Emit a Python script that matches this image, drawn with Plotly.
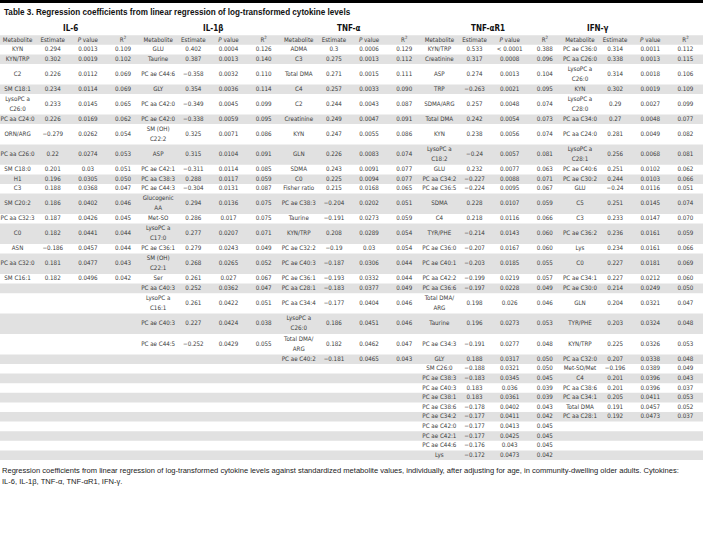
import plotly.graph_objects as go

W, H = 703, 543

TITLE = "Table 3. Regression coefficients from linear regression of log-transformed cytokine levels"
FOOT1 = ("Regression coefficients from linear regression of log-transformed cytokine levels against standardized "
         "metabolite values, individually, after adjusting for age, in community-dwelling older adults. Cytokines:")
FOOT2 = "IL-6, IL-1β, TNF-α, TNF-αR1, IFN-γ."

cytokines = ["IL-6", "IL-1β", "TNF-α", "TNF-αR1", "IFN-γ"]
column_labels = ["Metabolite", "Estimate", "<i>P</i> value", "R<sup>2</sup>"]

# ---------------- IL-6 ----------------
il6_metabolite = ["KYN", "KYN/TRP", "C2", "SM C18:1", "LysoPC a C26:0", "PC aa C24:0", "ORN/ARG",
                  "PC aa C26:0", "SM C18:0", "H1", "C3", "SM C20:2", "PC aa C32:3", "C0", "ASN",
                  "PC aa C32:0", "SM C16:1"]
il6_estimate = [0.294, 0.302, 0.226, 0.234, 0.233, 0.226, -0.279, 0.22, 0.201, 0.196, 0.188, 0.186,
                0.187, 0.182, -0.186, 0.181, 0.182]
il6_pvalue = [0.0013, 0.0019, 0.0112, 0.0114, 0.0145, 0.0169, 0.0262, 0.0274, 0.03, 0.0305, 0.0368,
              0.0402, 0.0426, 0.0441, 0.0457, 0.0477, 0.0496]
il6_r2 = [0.109, 0.102, 0.069, 0.069, 0.065, 0.062, 0.054, 0.053, 0.051, 0.050, 0.047, 0.046, 0.045,
          0.044, 0.044, 0.043, 0.042]

# ---------------- IL-1beta ----------------
il1b_metabolite = ["GLU", "Taurine", "PC ae C44:6", "GLY", "PC aa C42:0", "PC ae C42:0", "SM (OH) C22:2",
                   "ASP", "PC ae C42:1", "PC aa C38:3", "PC ae C44:3", "Glucogenic AA", "Met-SO",
                   "LysoPC a C17:0", "PC ae C36:1", "SM (OH) C22:1", "Ser", "PC aa C40:3",
                   "LysoPC a C16:1", "PC ae C40:3", "PC ae C44:5"]
il1b_estimate = [0.402, 0.387, -0.358, 0.354, -0.349, -0.338, 0.325, 0.315, -0.311, 0.288, -0.304, 0.294,
                 0.286, 0.277, 0.279, 0.268, 0.261, 0.252, 0.261, 0.227, -0.252]
il1b_pvalue = [0.0004, 0.0013, 0.0032, 0.0036, 0.0045, 0.0059, 0.0071, 0.0104, 0.0114, 0.0117, 0.0131,
               0.0136, 0.017, 0.0207, 0.0243, 0.0265, 0.027, 0.0362, 0.0422, 0.0424, 0.0429]
il1b_r2 = [0.126, 0.140, 0.110, 0.114, 0.099, 0.095, 0.086, 0.091, 0.085, 0.059, 0.087, 0.075, 0.075,
           0.071, 0.049, 0.052, 0.067, 0.047, 0.051, 0.038, 0.055]

# ---------------- TNF-alpha ----------------
tnfa_metabolite = ["ADMA", "C3", "Total DMA", "C4", "C2", "Creatinine", "KYN", "GLN", "SDMA", "C0",
                   "Fisher ratio", "PC ae C38:3", "Taurine", "KYN/TRP", "PC ae C32:2", "PC ae C40:3",
                   "PC ae C36:1", "PC aa C28:1", "PC aa C34:4", "LysoPC a C26:0", "Total DMA/ARG",
                   "PC ae C40:2"]
tnfa_estimate = [0.3, 0.275, 0.271, 0.257, 0.244, 0.249, 0.247, 0.226, 0.243, 0.225, 0.215, -0.204,
                 -0.191, 0.208, -0.19, -0.187, -0.193, -0.183, -0.177, 0.186, 0.182, -0.181]
tnfa_pvalue = [0.0006, 0.0013, 0.0015, 0.0033, 0.0043, 0.0047, 0.0055, 0.0083, 0.0091, 0.0094, 0.0168,
               0.0202, 0.0273, 0.0289, 0.03, 0.0306, 0.0332, 0.0377, 0.0404, 0.0451, 0.0462, 0.0465]
tnfa_r2 = [0.129, 0.112, 0.111, 0.090, 0.087, 0.091, 0.086, 0.074, 0.077, 0.077, 0.065, 0.051, 0.059,
           0.054, 0.054, 0.044, 0.044, 0.049, 0.046, 0.046, 0.047, 0.043]

# ---------------- TNF-alpha R1 ----------------
tnfar1_metabolite = ["KYN/TRP", "Creatinine", "ASP", "TRP", "SDMA/ARG", "Total DMA", "KYN",
                     "LysoPC a C18:2", "GLU", "PC aa C34:2", "PC ae C36:5", "SDMA", "C4", "TYR/PHE",
                     "PC ae C36:0", "PC ae C40:1", "PC aa C42:2", "PC aa C36:6", "Total DMA/ARG",
                     "Taurine", "PC ae C34:3", "GLY", "SM C26:0", "PC ae C38:3", "PC ae C40:3",
                     "PC ae C38:1", "PC ae C38:6", "PC ae C34:2", "PC ae C42:0", "PC ae C42:1",
                     "PC ae C44:6", "Lys"]
tnfar1_estimate = [0.533, 0.317, 0.274, -0.263, 0.257, 0.242, 0.238, -0.24, 0.232, -0.227, -0.224,
                   0.228, 0.218, -0.214, -0.207, -0.203, -0.199, -0.197, 0.198, 0.196, -0.191, 0.188,
                   -0.188, -0.183, 0.183, 0.183, -0.178, -0.177, -0.177, -0.177, -0.176, -0.172]
tnfar1_pvalue = ["< 0.0001", 0.0008, 0.0013, 0.0021, 0.0048, 0.0054, 0.0056, 0.0057, 0.0077, 0.0088,
                 0.0095, 0.0107, 0.0116, 0.0143, 0.0167, 0.0185, 0.0219, 0.0228, 0.026, 0.0273, 0.0277,
                 0.0317, 0.0321, 0.0345, 0.036, 0.0361, 0.0402, 0.0411, 0.0413, 0.0425, 0.043, 0.0473]
tnfar1_r2 = [0.388, 0.096, 0.104, 0.095, 0.074, 0.073, 0.074, 0.081, 0.063, 0.071, 0.067, 0.059, 0.066,
             0.060, 0.060, 0.055, 0.057, 0.049, 0.046, 0.053, 0.048, 0.050, 0.050, 0.045, 0.039, 0.039,
             0.043, 0.042, 0.045, 0.045, 0.045, 0.042]

# ---------------- IFN-gamma ----------------
ifng_metabolite = ["PC ae C36:0", "PC aa C26:0", "LysoPC a C26:0", "KYN", "LysoPC a C28:0", "PC aa C34:0",
                   "PC aa C24:0", "LysoPC a C28:1", "PC ae C40:6", "PC ae C30:2", "GLU", "C5", "C3",
                   "PC ae C36:2", "Lys", "C0", "PC ae C34:1", "PC ae C30:0", "GLN", "TYR/PHE", "KYN/TRP",
                   "PC aa C32:0", "Met-SO/Met", "C4", "PC aa C38:6", "PC aa C34:1", "Total DMA",
                   "PC aa C28:1"]
ifng_estimate = [0.314, 0.338, 0.314, 0.302, 0.29, 0.27, 0.281, 0.256, 0.251, 0.244, -0.24, 0.251, 0.233,
                 0.236, 0.234, 0.227, 0.227, 0.214, 0.204, 0.203, 0.225, 0.207, -0.196, 0.201, 0.201,
                 0.205, 0.191, 0.192]
ifng_pvalue = [0.0011, 0.0013, 0.0018, 0.0019, 0.0027, 0.0048, 0.0049, 0.0068, 0.0102, 0.0103, 0.0116,
               0.0145, 0.0147, 0.0161, 0.0161, 0.0181, 0.0212, 0.0249, 0.0321, 0.0324, 0.0326, 0.0338,
               0.0389, 0.0396, 0.0396, 0.0411, 0.0457, 0.0473]
ifng_r2 = [0.112, 0.115, 0.106, 0.109, 0.099, 0.077, 0.082, 0.081, 0.062, 0.066, 0.051, 0.074, 0.070,
           0.059, 0.066, 0.069, 0.060, 0.050, 0.047, 0.048, 0.053, 0.048, 0.049, 0.043, 0.037, 0.053,
           0.052, 0.037]

groups = [
    (il6_metabolite, il6_estimate, il6_pvalue, il6_r2),
    (il1b_metabolite, il1b_estimate, il1b_pvalue, il1b_r2),
    (tnfa_metabolite, tnfa_estimate, tnfa_pvalue, tnfa_r2),
    (tnfar1_metabolite, tnfar1_estimate, tnfar1_pvalue, tnfar1_r2),
    (ifng_metabolite, ifng_estimate, ifng_pvalue, ifng_r2),
]

# ---------------- style ----------------
BODY_FONT = "Liberation Sans Narrow, DejaVu Sans Condensed, Roboto, Arial, sans-serif"
PLAIN_FONT = "Liberation Sans, Arial, sans-serif"
TEXT_COLOR = "#3a3a3a"
GREY = "#e1e1e1"
BODY_SIZE = 6.2
HEADER_TOP = 35.2
ROW_H = 9.6
TALL_H = 20.4
LINE_GAP = 10.0
GROUP_TITLE_PX = [70, 213, 349, 488, 598]


def wrap(name):
    if len(name) > 12:
        if "/" in name:
            i = name.index("/") + 1
            return [name[:i], name[i:]]
        i = name.rfind(" ")
        return [name[:i], name[i + 1:]]
    return [name]


def fmt_num(v):
    if isinstance(v, str):
        return v
    return repr(v).replace("-", "\u2212")


def fmt_r2(v):
    return f"{v:.3f}"


n_cols = 4 * len(groups)
n_rows = max(len(g[0]) for g in groups)

# row geometry
row_lines = []
for r in range(n_rows):
    row_lines.append(max(len(wrap(g[0][r])) for g in groups if r < len(g[0])))

tops = []
y = HEADER_TOP + ROW_H
for r in range(n_rows):
    tops.append(y)
    y += ROW_H if row_lines[r] == 1 else TALL_H
heights = [(ROW_H if n == 1 else TALL_H) for n in row_lines]

xs, ys, texts = [], [], []
# header labels
for gi in range(len(groups)):
    for ci, lab in enumerate(column_labels):
        xs.append(gi * 4 + ci + 0.5)
        ys.append(HEADER_TOP + ROW_H / 2)
        texts.append(lab)

# body
for gi, (mets, ests, pvals, r2s) in enumerate(groups):
    for r in range(len(mets)):
        yc = tops[r] + heights[r] / 2
        lines = wrap(mets[r])
        for li, line in enumerate(lines):
            off = (li - (len(lines) - 1) / 2) * LINE_GAP
            xs.append(gi * 4 + 0.5)
            ys.append(yc + off)
            texts.append(line)
        for ci, val in enumerate([fmt_num(ests[r]), fmt_num(pvals[r]), fmt_r2(r2s[r])]):
            xs.append(gi * 4 + ci + 1.5)
            ys.append(yc)
            texts.append(val)

fig = go.Figure()
fig.add_trace(go.Scatter(
    x=xs, y=ys, text=texts, mode="text", textposition="middle center",
    textfont=dict(family=BODY_FONT, size=BODY_SIZE, color=TEXT_COLOR),
    hoverinfo="skip", showlegend=False, cliponaxis=False,
))

shapes = []
# top black rule
shapes.append(dict(type="rect", xref="paper", yref="y", x0=0, x1=1, y0=0, y1=3,
                   fillcolor="black", line=dict(width=0), layer="below"))
# header background
shapes.append(dict(type="rect", xref="paper", yref="y", x0=0, x1=1, y0=HEADER_TOP,
                   y1=HEADER_TOP + ROW_H, fillcolor=GREY, line=dict(width=0), layer="below"))
for r in range(n_rows):
    if r % 2 == 1:
        shapes.append(dict(type="rect", xref="paper", yref="y", x0=0, x1=1, y0=tops[r],
                           y1=tops[r] + heights[r], fillcolor=GREY, line=dict(width=0), layer="below"))

annotations = [
    dict(text="<b>" + TITLE + "</b>", xref="paper", yref="y", x=0.003, y=12, xanchor="left",
         yanchor="middle", showarrow=False,
         font=dict(family=PLAIN_FONT, size=8.15, color="#111")),
    dict(text=FOOT1, xref="paper", yref="y", x=0.0, y=470, xanchor="left", yanchor="middle",
         showarrow=False, font=dict(family=PLAIN_FONT, size=7.55, color="#222")),
    dict(text=FOOT2, xref="paper", yref="y", x=0.0, y=481, xanchor="left", yanchor="middle",
         showarrow=False, font=dict(family=PLAIN_FONT, size=7.55, color="#222")),
]
for gi, name in enumerate(cytokines):
    annotations.append(dict(text="<b>" + name + "</b>", xref="paper", yref="y",
                            x=GROUP_TITLE_PX[gi] / W, y=28, xanchor="center", yanchor="middle",
                            showarrow=False,
                            font=dict(family=BODY_FONT, size=8, color="#111")))

fig.update_layout(
    width=W, height=H,
    margin=dict(l=0, r=0, t=0, b=0),
    paper_bgcolor="white", plot_bgcolor="white",
    xaxis=dict(range=[0, n_cols], visible=False, fixedrange=True),
    yaxis=dict(range=[H, 0], visible=False, fixedrange=True),
    shapes=shapes, annotations=annotations, showlegend=False,
)

fig.write_html("out.html", config={"displayModeBar": False},
               post_script="document.body.style.margin='0px';")
